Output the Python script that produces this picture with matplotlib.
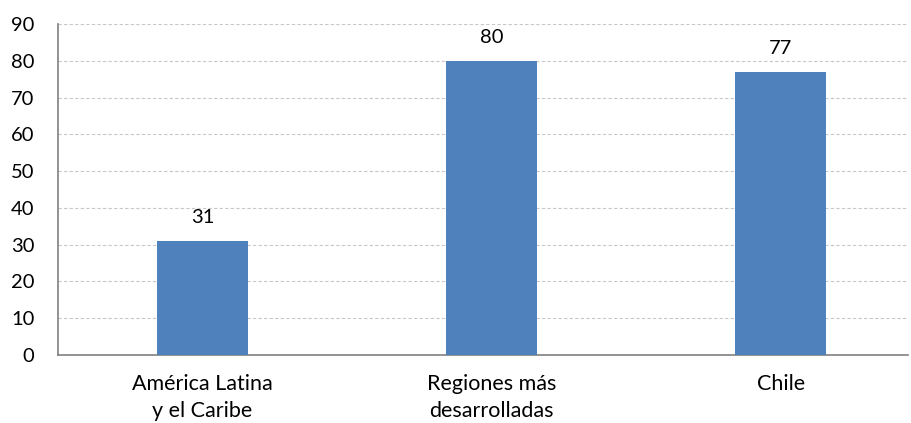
import matplotlib
matplotlib.use('Agg')
import matplotlib.pyplot as plt

# values per region (%)
categories = ["América Latina\ny el Caribe", "Regiones más\ndesarrolladas", "Chile"]
values = [31, 80, 77]
yticks = [0, 10, 20, 30, 40, 50, 60, 70, 80, 90]

plt.rcParams['font.family'] = ['Lato', 'DejaVu Sans']

fig = plt.figure(figsize=(9.11, 4.23), dpi=100)
ax = fig.add_axes([58 / 911, 1 - 355 / 423, (908 - 58) / 911, (355 - 24) / 423])

xs = range(len(values))
bars = ax.bar(xs, values, width=0.315, color='#4F81BD', zorder=3)
for x, v in zip(xs, values):
    ax.text(x, v + 4.0, str(v), ha='center', va='bottom', fontsize=14.5, color='black')

ax.set_ylim(0, 90)
ax.set_xlim(-0.5, 2.44)
ax.set_yticks(yticks)
ax.set_yticklabels([str(t) for t in yticks], fontsize=14.5)
ax.set_xticks(list(xs))
ax.set_xticklabels(categories, fontsize=15.5, linespacing=1.38)
ax.tick_params(axis='x', length=0, pad=14)
ax.tick_params(axis='y', length=0, pad=17)

ax.yaxis.grid(True, linestyle=(0, (3, 2)), color='#C8C8C8', linewidth=0.8, zorder=0)
for s in ['top', 'right']:
    ax.spines[s].set_visible(False)
ax.spines['left'].set_color('#808080')
ax.spines['bottom'].set_color('#808080')
ax.spines['left'].set_linewidth(1.2)
ax.spines['bottom'].set_linewidth(1.2)

fig.savefig('out.png', dpi=100)
